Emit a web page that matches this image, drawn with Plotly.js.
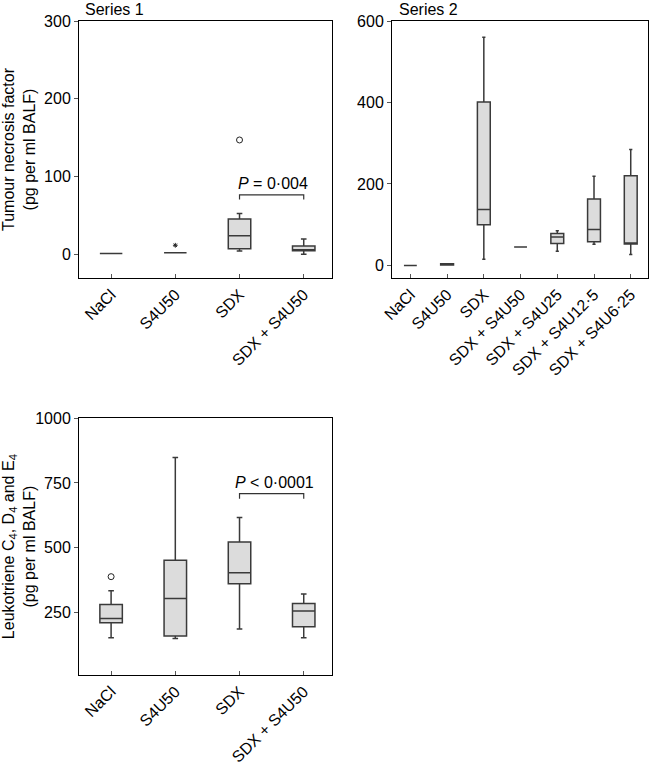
<!DOCTYPE html>
<html>
<head>
<meta charset="utf-8">
<script src="https://cdn.plot.ly/plotly-3.0.1.min.js"></script>
<style>html,body{margin:0;padding:0;background:#fff}#chart{width:650px;height:771px}</style>
</head>
<body>
<div id="chart"></div>
<script>
// ---- Panel 1: Tumour necrosis factor ----
const cats1 = ['NaCl', 'S4U50', 'SDX', 'SDX + S4U50'];
const tnfLower  = [1, 2, 4.3, 0];
const tnfQ1     = [1, 2, 7.3, 4.7];
const tnfMedian = [1, 2, 24, 4.7];
const tnfQ3     = [1, 2, 45.5, 10.7];
const tnfUpper  = [1, 2, 52.5, 19.7];
const tnfOutlierX = ['SDX'];
const tnfOutlierY = [147];
const tnfStarX = ['S4U50'];
const tnfStarY = [11.6];
const tnfBracketX = ['SDX', 'SDX', 'SDX + S4U50', 'SDX + S4U50'];
const tnfBracketY = [70.5, 76.5, 76.5, 70.5];
const tnfPText = '<i>P</i> = 0·004';
const tnfPY = 91;

// ---- Panel 2: Series 2 ----
const cats2 = ['NaCl', 'S4U50', 'SDX', 'SDX + S4U50', 'SDX + S4U25', 'SDX + S4U12·5', 'SDX + S4U6·25'];
const s2Lower  = [0, 1, 15, 45, 34.5, 52, 27];
const s2Q1     = [0, 1, 100, 45, 54, 58, 52.5];
const s2Median = [0, 2, 137, 45, 70, 88, 52.5];
const s2Q3     = [0, 4, 401, 45, 78, 163, 220];
const s2Upper  = [0, 4, 560, 45, 85, 219, 284.5];

// ---- Panel 3: Leukotriene ----
const cats3 = ['NaCl', 'S4U50', 'SDX', 'SDX + S4U50'];
const ltLower  = [152, 149, 185.5, 152];
const ltQ1     = [210, 158.5, 360.6, 194.5];
const ltMedian = [226.6, 304, 403, 255];
const ltQ3     = [280.7, 451, 522, 284.7];
const ltUpper  = [333.6, 849, 617, 321];
const ltOutlierX = ['NaCl'];
const ltOutlierY = [388];
const ltBracketX = ['SDX', 'SDX', 'SDX + S4U50', 'SDX + S4U50'];
const ltBracketY = [689, 708.6, 708.6, 689];
const ltPText = '<i>P</i> &lt; 0·0001';
const ltPY = 752;

const FONT = '"Liberation Sans", Arial, Helvetica, sans-serif';
const FS = 16;
const boxFill = '#dcdcdc';
const boxLine = '#3a3a3a';

function boxTrace(cats, lo, q1, med, q3, hi, xa, ya) {
  return {
    type: 'box', x: cats, lowerfence: lo, q1: q1, median: med, q3: q3, upperfence: hi,
    xaxis: xa, yaxis: ya, fillcolor: boxFill, line: {color: boxLine, width: 1.5},
    whiskerwidth: 0.25, boxpoints: false, hoverinfo: 'skip', showlegend: false
  };
}
function lineTrace(x, y, xa, ya) {
  return {type: 'scatter', mode: 'lines', x: x, y: y, xaxis: xa, yaxis: ya,
    line: {color: '#333', width: 1.2}, hoverinfo: 'skip', showlegend: false};
}
function pointTrace(x, y, xa, ya, symbol, size) {
  return {type: 'scatter', mode: 'markers', x: x, y: y, xaxis: xa, yaxis: ya,
    marker: {symbol: symbol, size: size, color: '#222', line: {color: '#222', width: 1}},
    hoverinfo: 'skip', showlegend: false};
}

const data = [
  boxTrace(cats1, tnfLower, tnfQ1, tnfMedian, tnfQ3, tnfUpper, 'x', 'y'),
  pointTrace(tnfOutlierX, tnfOutlierY, 'x', 'y', 'circle-open', 6),
  pointTrace(tnfStarX, tnfStarY, 'x', 'y', 'asterisk-open', 4),
  lineTrace(tnfBracketX, tnfBracketY, 'x', 'y'),
  boxTrace(cats2, s2Lower, s2Q1, s2Median, s2Q3, s2Upper, 'x2', 'y2'),
  boxTrace(cats3, ltLower, ltQ1, ltMedian, ltQ3, ltUpper, 'x3', 'y3'),
  pointTrace(ltOutlierX, ltOutlierY, 'x3', 'y3', 'circle-open', 6),
  lineTrace(ltBracketX, ltBracketY, 'x3', 'y3')
];

function xAxis(domain, anchor, range) {
  return {domain: domain, anchor: anchor, type: 'category', range: range,
    showline: true, mirror: true, linecolor: '#000', linewidth: 1,
    showgrid: false, zeroline: false, ticks: 'inside', ticklen: 4, tickcolor: '#555',
    tickangle: -45, tickfont: {size: FS, color: '#000'}, fixedrange: true};
}
function yAxis(domain, anchor, range, tickvals, title, standoff) {
  const a = {domain: domain, anchor: anchor, range: range, tickvals: tickvals,
    showline: true, mirror: true, linecolor: '#000', linewidth: 1,
    showgrid: false, zeroline: false, ticks: 'outside', ticklen: 4, tickcolor: '#555',
    tickfont: {size: FS, color: '#000'}, fixedrange: true};
  if (title) a.title = {text: title, font: {size: FS, color: '#000'}, standoff: standoff};
  return a;
}

const layout = {
  width: 650, height: 771,
  margin: {l: 79, r: 2, t: 21, b: 96},
  paper_bgcolor: '#fff', plot_bgcolor: '#fff',
  font: {family: FONT, size: FS, color: '#000'},
  boxgap: 0.5,
  showlegend: false,
  xaxis:  xAxis([0, 0.4446], 'y', [-0.5, 3.44]),
  yaxis:  yAxis([0.607, 1], 'x', [-30.5, 300], [0, 100, 200, 300],
                'Tumour necrosis factor<br>(pg per ml BALF)', 12),
  xaxis2: xAxis([0.5501, 1], 'y2', [-0.5, 6.47]),
  yaxis2: yAxis([0.607, 1], 'x2', [-31, 600], [0, 200, 400, 600], null, 0),
  xaxis3: xAxis([0, 0.4446], 'y3', [-0.5, 3.44]),
  yaxis3: yAxis([0, 0.3925], 'x3', [8, 1000], [250, 500, 750, 1000],
                'Leukotriene C<sub>4</sub>, D<sub>4</sub> and E<sub>4</sub><br>(pg per ml BALF)', 3),
  annotations: [
    {text: 'Series 1', xref: 'x domain', yref: 'y domain', x: 0.015, y: 1.046,
     xanchor: 'left', yanchor: 'middle', showarrow: false, font: {size: FS}},
    {text: 'Series 2', xref: 'x2 domain', yref: 'y2 domain', x: 0.018, y: 1.046,
     xanchor: 'left', yanchor: 'middle', showarrow: false, font: {size: FS}},
    {text: tnfPText, xref: 'x', yref: 'y', x: 2.52, y: tnfPY,
     xanchor: 'center', yanchor: 'middle', showarrow: false, font: {size: FS}},
    {text: ltPText, xref: 'x3', yref: 'y3', x: 2.55, y: ltPY,
     xanchor: 'center', yanchor: 'middle', showarrow: false, font: {size: FS}}
  ]
};

Plotly.newPlot('chart', data, layout, {displayModeBar: false, staticPlot: true});
</script>
</body>
</html>
